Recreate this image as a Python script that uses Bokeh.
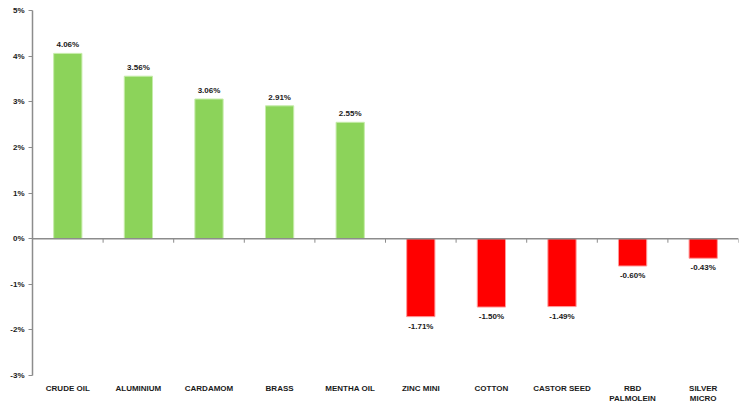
from bokeh.plotting import figure
from bokeh.models import ColumnDataSource, FactorRange, Range1d, PrintfTickFormatter, FixedTicker, Span
from bokeh.core.properties import value
from bokeh.embed import file_html
from bokeh.resources import INLINE

commodities = ["CRUDE OIL", "ALUMINIUM", "CARDAMOM", "BRASS", "MENTHA OIL",
               "ZINC MINI", "COTTON", "CASTOR SEED", "RBD\nPALMOLEIN", "SILVER\nMICRO"]
change_pct = [4.06, 3.56, 3.06, 2.91, 2.55, -1.71, -1.50, -1.49, -0.60, -0.43]
y_ticks = [-3, -2, -1, 0, 1, 2, 3, 4, 5]

FONT = "Liberation Sans"
GREEN, GREEN_EDGE = "#8cd35a", "#c6ecaa"
RED, RED_EDGE = "#ff0000", "#ff9a9a"

fill = [GREEN if v >= 0 else RED for v in change_pct]
edge = [GREEN_EDGE if v >= 0 else RED_EDGE for v in change_pct]
labels = ["%.2f%%" % v for v in change_pct]
label_off = [-4 if v >= 0 else 5 for v in change_pct]
label_base = ["bottom" if v >= 0 else "top" for v in change_pct]

src = ColumnDataSource(dict(x=commodities, top=change_pct, fill=fill, edge=edge,
                            label=labels, off=label_off, base=label_base))

p = figure(width=740, height=406, x_range=FactorRange(*commodities, range_padding=0),
           y_range=Range1d(-3, 5), output_backend="svg", toolbar_location=None,
           min_border_left=32, min_border_right=2, min_border_top=10, min_border_bottom=28)
p.outline_line_color = None
p.grid.visible = False
p.background_fill_color = "white"

p.vbar(x="x", top="top", bottom=0, width=0.4, source=src,
       fill_color="fill", line_color="edge", line_width=1)

# value labels above positive bars, below negative bars
p.text(x="x", y="top", text="label", source=src, y_offset="off",
       text_align="center", text_baseline="base", text_font=value(FONT),
       text_font_size="8px", text_font_style="bold", text_color="#1a1a1a")

# zero line with small ticks between categories
p.add_layout(Span(location=0, dimension="width", line_color="#8c8c8c", line_width=1.5))
bounds = list(range(0, len(commodities) + 1))
p.segment(x0=bounds, y0=[0] * len(bounds), x1=bounds, y1=[-0.09] * len(bounds),
          line_color="#8c8c8c", line_width=1)

# y axis
ya = p.yaxis[0]
ya.ticker = FixedTicker(ticks=y_ticks)
ya.formatter = PrintfTickFormatter(format="%d%%")
ya.axis_line_color = "#8c8c8c"
ya.axis_line_width = 1.5
ya.major_tick_line_color = "#8c8c8c"
ya.major_tick_out = 4
ya.major_tick_in = 0
ya.minor_tick_line_color = None
ya.major_label_text_font = FONT
ya.major_label_text_font_size = "8px"
ya.major_label_text_font_style = "bold"
ya.major_label_text_color = "#1a1a1a"
ya.major_label_standoff = 4

# category labels along the bottom
xa = p.xaxis[0]
xa.axis_line_color = None
xa.major_tick_line_color = None
xa.major_tick_out = 0
xa.major_tick_in = 0
xa.minor_tick_line_color = None
xa.minor_tick_out = 0
xa.major_label_text_font = FONT
xa.major_label_text_font_size = "8px"
xa.major_label_text_font_style = "bold"
xa.major_label_text_color = "#1a1a1a"
xa.major_label_standoff = 8

open("out.html", "w").write(file_html(p, INLINE))
